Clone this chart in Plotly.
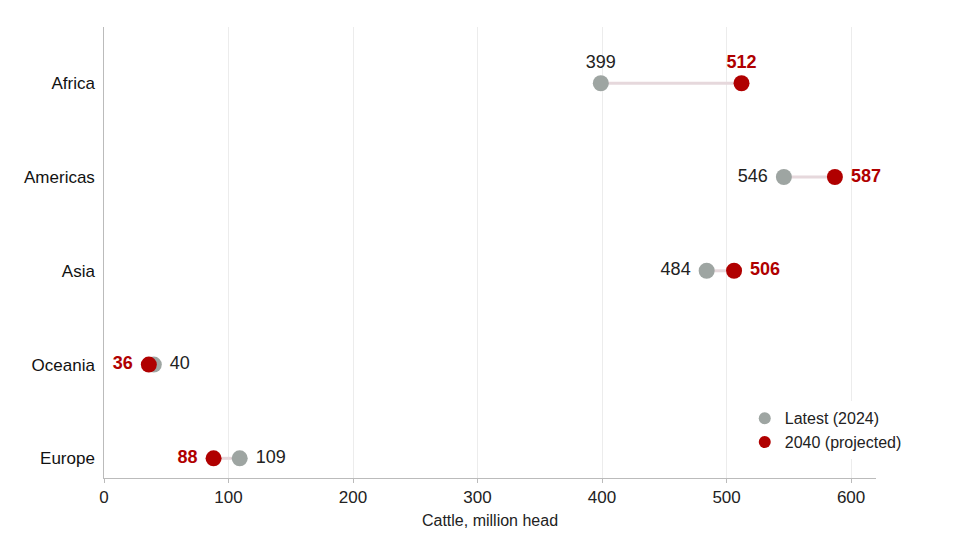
import plotly.graph_objects as go

regions = ["Africa", "Americas", "Asia", "Oceania", "Europe"]
latest = [399, 546, 484, 40, 109]
projected = [512, 587, 506, 36, 88]

grey = "#9ea5a2"
red = "#b00000"
font = "Liberation Sans"

fig = go.Figure()

# connector lines
for r, a, b in zip(regions, latest, projected):
    fig.add_trace(go.Scatter(x=[a, b], y=[r, r], mode="lines",
                             line=dict(color="#e6d8dc", width=3),
                             showlegend=False, hoverinfo="skip"))

def pos(i, mine, other):
    if i == 0:
        return "top center"
    return "middle right" if mine > other else "middle left"

fig.add_trace(go.Scatter(
    x=latest, y=regions, mode="markers+text", name="Latest (2024)",
    marker=dict(color=grey, size=16), cliponaxis=False,
    text=[f" {v} " if i else str(v) for i, v in enumerate(latest)],
    textposition=[pos(i, latest[i], projected[i]) for i in range(5)],
    textfont=dict(family=font, size=18, color="#222")))

fig.add_trace(go.Scatter(
    x=projected, y=regions, mode="markers+text", name="2040 (projected)",
    marker=dict(color=red, size=16), cliponaxis=False,
    text=[f"<b> {v} </b>" if i else f"<b>{v}</b>" for i, v in enumerate(projected)],
    textposition=[pos(i, projected[i], latest[i]) for i in range(5)],
    textfont=dict(family=font, size=18, color=red)))

fig.update_layout(
    width=960, height=540, plot_bgcolor="white", paper_bgcolor="white",
    margin=dict(l=96, r=92, t=19, b=70),
    font=dict(family=font, size=16, color="#222"),
    legend=dict(x=0.83, y=0.17, xanchor="left", yanchor="top",
                font=dict(size=16), itemsizing="constant"),
    xaxis=dict(range=[0, 620], tickvals=[0, 100, 200, 300, 400, 500, 600],
               showgrid=True, gridcolor="#ececec", zeroline=False, automargin=False,
               showline=True, linecolor="#bbb", ticks="outside", ticklen=4,
               tickcolor="#bbb", tickfont=dict(size=17),
               title=dict(text="Cattle, million head", font=dict(size=16), standoff=8)),
    yaxis=dict(type="category", categoryorder="array", categoryarray=regions,
               range=[4.21, -0.6], showgrid=False, showline=True, automargin=False,
               linecolor="#bbb", ticks="", ticksuffix=" ",
               tickfont=dict(size=17, color="#111")),
)

fig.write_html("out.html")
